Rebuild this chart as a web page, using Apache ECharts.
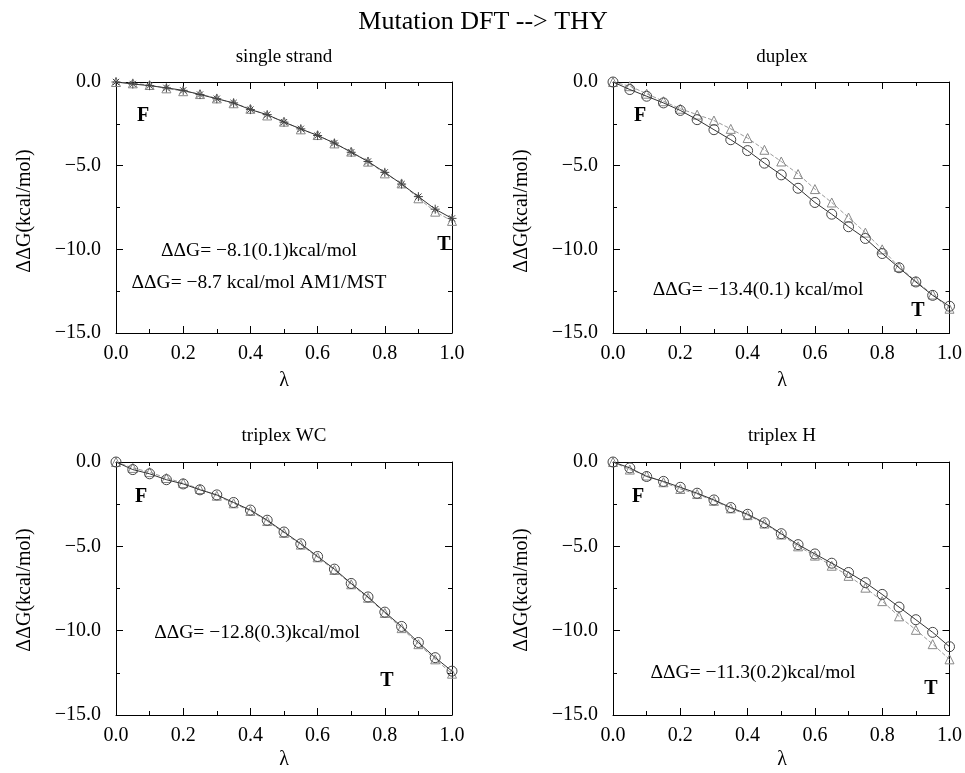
<!DOCTYPE html>
<html><head><meta charset="utf-8">
<script src="https://cdn.jsdelivr.net/npm/echarts@6/dist/echarts.min.js"></script>
<style>html,body{margin:0;padding:0;background:#fff}#c{width:965px;height:773px}</style>
</head><body><div id="c"></div>
<script>
const lambda = [0,0.05,0.1,0.15,0.2,0.25,0.3,0.35,0.4,0.45,0.5,0.55,0.6,0.65,0.7,0.75,0.8,0.85,0.9,0.95,1.0];
const ssTri  = [0,-0.08,-0.18,-0.38,-0.55,-0.72,-0.98,-1.27,-1.6,-2.0,-2.37,-2.83,-3.17,-3.67,-4.16,-4.76,-5.46,-6.06,-6.95,-7.75,-8.3];
const ssStar = [0,-0.12,-0.22,-0.35,-0.5,-0.75,-1.0,-1.25,-1.65,-1.95,-2.4,-2.8,-3.2,-3.65,-4.2,-4.75,-5.4,-6.1,-6.85,-7.6,-8.15];
const dxTri  = [0,-0.25,-0.7,-1.15,-1.6,-1.95,-2.3,-2.8,-3.35,-4.05,-4.75,-5.5,-6.4,-7.2,-8.1,-9.0,-10.0,-11.05,-11.9,-12.7,-13.55];
const dxCirc = [0,-0.45,-0.85,-1.25,-1.7,-2.25,-2.85,-3.45,-4.1,-4.85,-5.55,-6.35,-7.2,-7.9,-8.65,-9.35,-10.25,-11.1,-11.95,-12.75,-13.4];
const wcCirc = [0,-0.45,-0.7,-1.05,-1.3,-1.65,-1.95,-2.4,-2.85,-3.45,-4.15,-4.85,-5.6,-6.35,-7.2,-8.0,-8.9,-9.75,-10.7,-11.6,-12.4];
const wcTri  = [0,-0.35,-0.6,-0.95,-1.25,-1.6,-2.0,-2.45,-2.9,-3.5,-4.2,-4.9,-5.65,-6.4,-7.25,-8.05,-8.95,-9.85,-10.8,-11.7,-12.55];
const hCirc  = [0,-0.35,-0.86,-1.15,-1.5,-1.85,-2.25,-2.7,-3.1,-3.6,-4.25,-4.9,-5.45,-6.0,-6.55,-7.15,-7.85,-8.6,-9.35,-10.1,-10.95];
const hTri   = [0,-0.45,-0.8,-1.2,-1.6,-1.9,-2.3,-2.75,-3.15,-3.65,-4.3,-5.0,-5.55,-6.15,-6.75,-7.45,-8.25,-9.15,-9.95,-10.8,-11.7];

const panelTitles = ['single strand','duplex','triplex WC','triplex H'];
const annotations = [
  ['ΔΔG= \u22128.1(0.1)kcal/mol','ΔΔG= \u22128.7 kcal/mol AM1/MST'],
  ['ΔΔG= \u221213.4(0.1) kcal/mol'],
  ['ΔΔG= \u221212.8(0.3)kcal/mol'],
  ['ΔΔG= \u221211.3(0.2)kcal/mol']
];

const FONT = 'Liberation Serif';
const grids = [
  {left:116, top:82, width:336, height:251},
  {left:613, top:82, width:338, height:251},
  {left:116, top:462, width:336, height:253},
  {left:613, top:462, width:338, height:253}
];
const pair = (ys)=>lambda.map((x,i)=>[x,ys[i]]);
const seriesData = [
  [{d:ssTri,sym:'triangle',dash:true},{d:ssStar,sym:'path://M5,0L5,10M0,5L10,5M1.5,1.5L8.5,8.5M8.5,1.5L1.5,8.5',dash:false}],
  [{d:dxTri,sym:'triangle',dash:true},{d:dxCirc,sym:'circle',dash:false}],
  [{d:wcTri,sym:'triangle',dash:true},{d:wcCirc,sym:'circle',dash:false}],
  [{d:hTri,sym:'triangle',dash:true},{d:hCirc,sym:'circle',dash:false}]
];
const minus = v => (v<0? '\u2212'+Math.abs(v).toFixed(1) : v.toFixed(1));
const xAxes=[], yAxes=[], series=[];
const tickStyle = {color:'#000',width:1};
grids.forEach((g,i)=>{
  const common = {type:'value',min:0,max:1,interval:0.2,gridIndex:i,
    axisLine:{onZero:false,lineStyle:{color:'#000',width:1}},
    axisTick:{inside:true,length:7,lineStyle:tickStyle},
    minorTick:{show:true,splitNumber:2,length:4,lineStyle:tickStyle},
    splitLine:{show:false},minorSplitLine:{show:false}};
  xAxes.push(Object.assign({},common,{position:'bottom',
    axisLabel:{fontFamily:FONT,fontSize:20,color:'#000',margin:11,formatter:v=>v.toFixed(1)}}));
  xAxes.push(Object.assign({},common,{position:'top',axisLabel:{show:false}}));
  const yc = {type:'value',min:-15,max:0,interval:5,gridIndex:i,
    axisLine:{show:true,onZero:false,lineStyle:{color:'#000',width:1}},
    axisTick:{inside:true,length:7,lineStyle:tickStyle},
    minorTick:{show:true,splitNumber:2,length:4,lineStyle:tickStyle},
    splitLine:{show:false},minorSplitLine:{show:false}};
  yAxes.push(Object.assign({},yc,{position:'left',
    axisLabel:{fontFamily:FONT,fontSize:20,color:'#000',margin:15,formatter:v=>minus(v)}}));
  yAxes.push(Object.assign({},yc,{position:'right',axisLabel:{show:false}}));
  seriesData[i].forEach(s=>{
    series.push({type:'line',xAxisIndex:2*i,yAxisIndex:2*i,data:pair(s.d),
      symbol:s.sym,symbolSize:s.sym==='circle'?10:9,showAllSymbol:true,
      lineStyle:{color:s.dash?'#999':'#333',width:1,type:s.dash?'dashed':'solid'},
      itemStyle:{color:'rgba(255,255,255,0)',borderColor:s.dash?'#888':'#444',borderWidth:1},
      animation:false,z:s.dash?2:3});
  });
});

const graphics=[];
const txt=(x,y,t,size,opts={})=>graphics.push(Object.assign({type:'text',x:x,y:y,
  style:Object.assign({text:t,font:(opts.bold?'bold ':'')+size+'px "'+FONT+'"',fill:'#000',
  textAlign:'center',textVerticalAlign:'middle'},opts.style||{})},opts.extra||{}));
txt(483,22,'Mutation DFT --> THY',26);
const tpos=[[284,57],[782,57],[284,436],[782,436]];
panelTitles.forEach((t,i)=>txt(tpos[i][0],tpos[i][1],t,19));
[[284,381],[782,381],[284,760],[782,760]].forEach(p=>txt(p[0],p[1],'λ',20));
[[25,211],[522,211],[25,590],[522,590]].forEach(p=>graphics.push({type:'text',x:p[0],y:p[1],rotation:Math.PI/2,
  style:{text:'ΔΔG(kcal/mol)',font:'20px "'+FONT+'"',fill:'#000',textAlign:'center',textVerticalAlign:'middle'}}));
// annotations
txt(259,251,annotations[0][0],19.5); txt(259,283,annotations[0][1],19.5);
txt(758,290,annotations[1][0],19.5);
txt(257,633,annotations[2][0],19.5);
txt(753,673,annotations[3][0],19.5);
[[143,116],[640,116],[141,497],[638,497]].forEach(p=>txt(p[0],p[1],'F',20,{bold:true}));
[[444,245],[918,311],[387,681],[931,689]].forEach(p=>txt(p[0],p[1],'T',20,{bold:true}));

const chart = echarts.init(document.getElementById('c'));
chart.setOption({animation:false,grid:grids,xAxis:xAxes,yAxis:yAxes,series:series,graphic:graphics});
</script></body></html>
